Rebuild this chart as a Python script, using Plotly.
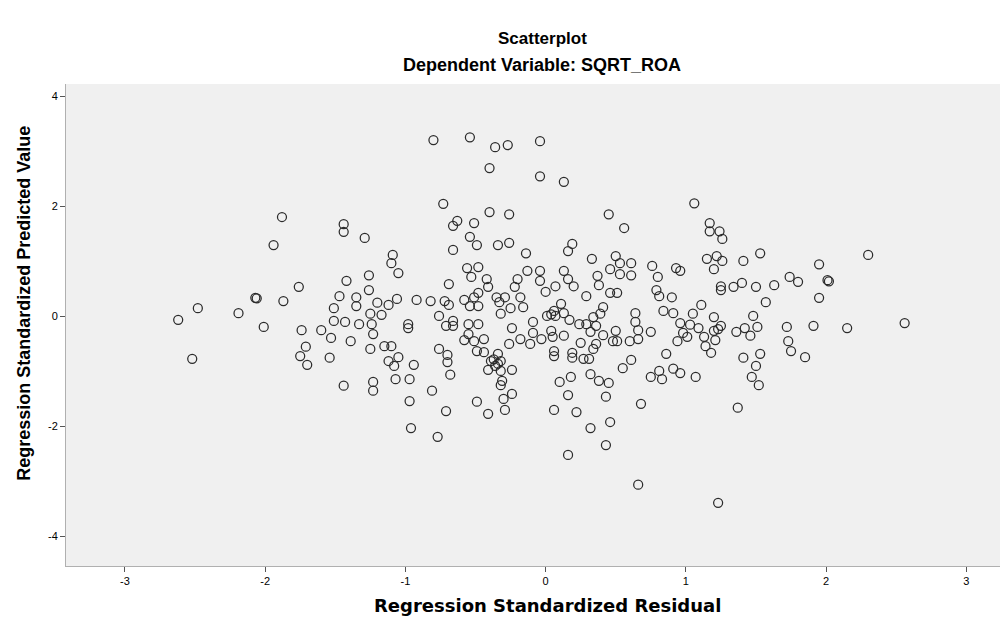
import plotly.graph_objects as go

# Regression standardized residual (x) and standardized predicted value (y)
residual = [
    -0.80, -0.54, -0.36, -0.27, -0.04, -0.40, -0.04, 0.13, -0.73, -0.40,
    -0.26, -0.63, -0.66, -0.51, -1.29, -0.54, -0.49, -0.34, -0.26, -1.09,
    -1.10, -0.66, -0.14, 0.45, 0.56, 1.06, 1.17, 1.17, 1.24, 1.26,
    0.19, 0.16, 0.50, 1.22, -1.88, -1.94, -1.44, -1.44, 1.53, 2.30,
    -2.62, -2.48, -2.52, -2.19, -2.07, -2.06, -2.01, -1.87, -1.76, -1.74,
    -1.71, -1.75, -1.70, -1.60, -1.53, -1.54, -1.51, -1.51, -1.47, -1.42,
    -1.43, -1.39, -1.44,
    -1.05, -1.26, -1.26, -1.35, -1.35, -1.20, -1.12, -1.06, -0.92, -0.82,
    -0.72, -0.69, -0.69, -0.56, -0.48, -0.53, -0.42, -0.41, -0.48, -0.51,
    -0.58, -0.54, -0.48, -0.35, -0.29, -0.33, -0.25, -0.32, -0.13, -0.20,
    -0.22, -0.18, -0.16, -1.25, -1.17, -1.33, -1.24, -1.23, -0.98, -0.98,
    -0.76, -0.71, -0.66, -0.66, -0.55, -0.48, -0.55, -0.58, -0.51, -0.44,
    -0.49, -0.44, -0.24, -0.09, -0.09, -0.18, -0.26, -0.11, -1.25, -1.15,
    -1.10, -1.12, -1.05, -1.08, -0.94, -0.76, -0.70, -0.70, -0.68, -0.39,
    -0.34, -0.32, -0.36, -0.41, -0.32, -0.24, -0.31, -1.23, -1.23, -1.07,
    -0.97, -0.37, -0.34,
    0.33, 0.53, 0.61, 0.46, 0.53, 0.61, 0.76, 0.80, 0.93, 0.96,
    1.15, 1.26, 1.20, -0.04, -0.04, 0.13, 0.16, 0.07, 0.00, 0.20,
    0.29, 0.37, 0.38, 0.46, 0.51, 0.79, 0.81, 0.90, 1.25, 1.25,
    0.11, 0.06, 0.01, 0.07, 0.13, 0.17, 0.24, 0.29, 0.41, 0.39,
    0.34, 0.36, 0.32, 0.64, 0.64, 0.66, 0.75, 0.50, 0.41, 0.66,
    0.60, 0.48, 0.51, 0.04, 0.05, 0.13, -0.03, 0.25, 0.36, 0.34,
    0.06, 0.06, 0.19, 0.19, 0.27, 0.31, 0.84, 0.91, 1.11, 1.05,
    1.20, 0.96, 1.03, 1.09, 0.98, 0.94, 1.01, 1.13, 1.20, 1.25,
    1.21, 1.14, 1.18, 0.86, 0.61, 0.55, 0.75, 0.81, 0.91, 0.96,
    1.07, 0.83, 0.32, 0.18, 0.10, 0.38, 0.45, 1.23, 0.04,
    1.41, 1.95, 1.74, 1.80, 2.01, 2.02, 1.34, 1.40, 1.50, 1.63,
    1.95, 1.57, 1.48, 1.36, 1.42, 1.51, 1.46, 1.72, 1.91, 2.15,
    2.56, 1.73, 1.75, 1.85, 1.41, 1.53, 1.50, 1.47, 1.52,
    -0.97, -0.81, -0.71, -0.96, -0.77, -0.49, -0.41, -0.32, -0.30, -0.24,
    -0.29, 0.16, 0.43, 0.06, 0.22, 0.32, 0.46, 0.68, 0.43, 0.16,
    0.66, 1.23, 1.37,
]
predicted = [
    3.21, 3.26, 3.08, 3.12, 3.19, 2.70, 2.55, 2.45, 2.05, 1.90,
    1.86, 1.74, 1.65, 1.70, 1.43, 1.45, 1.30, 1.30, 1.34, 1.12,
    0.97, 1.21, 1.15, 1.86, 1.61, 2.06, 1.70, 1.55, 1.55, 1.41,
    1.32, 1.19, 1.10, 1.10, 1.81, 1.30, 1.68, 1.54, 1.15, 1.12,
    -0.06, 0.15, -0.77, 0.06, 0.34, 0.33, -0.19, 0.28, 0.54, -0.25,
    -0.55, -0.72, -0.88, -0.25, -0.39, -0.75, -0.08, 0.15, 0.37, 0.65,
    -0.10, -0.45, -1.26,
    0.79, 0.75, 0.48, 0.35, 0.19, 0.25, 0.21, 0.32, 0.30, 0.28,
    0.28, 0.21, 0.59, 0.88, 0.90, 0.72, 0.68, 0.54, 0.43, 0.35,
    0.30, 0.19, 0.19, 0.35, 0.35, 0.26, 0.15, 0.05, 0.83, 0.68,
    0.54, 0.35, 0.17, 0.05, 0.03, -0.14, -0.14, -0.32, -0.14, -0.21,
    0.01, -0.17, -0.08, -0.17, -0.14, -0.14, -0.32, -0.43, -0.45, -0.41,
    -0.63, -0.65, -0.21, -0.10, -0.30, -0.41, -0.50, -0.50, -0.59, -0.54,
    -0.54, -0.81, -0.74, -0.90, -0.88, -0.59, -0.70, -0.83, -1.06, -0.81,
    -0.68, -0.81, -0.90, -0.97, -0.99, -0.97, -1.17, -1.19, -1.35, -1.14,
    -1.14, -0.78, -0.86,
    1.05, 0.97, 0.97, 0.86, 0.77, 0.75, 0.92, 0.72, 0.88, 0.83,
    1.05, 1.01, 0.86, 0.83, 0.65, 0.83, 0.68, 0.55, 0.45, 0.55,
    0.37, 0.74, 0.57, 0.43, 0.43, 0.48, 0.37, 0.35, 0.55, 0.48,
    0.23, 0.10, 0.01, 0.01, 0.06, -0.06, -0.14, -0.14, 0.17, 0.05,
    -0.01, -0.17, -0.28, 0.06, -0.10, -0.25, -0.28, -0.26, -0.34, -0.41,
    -0.45, -0.45, -0.45, -0.26, -0.37, -0.35, -0.41, -0.48, -0.50, -0.59,
    -0.63, -0.72, -0.66, -0.75, -0.77, -0.77, 0.10, 0.06, 0.21, 0.05,
    -0.01, -0.12, -0.15, -0.21, -0.30, -0.45, -0.37, -0.37, -0.26, -0.17,
    -0.43, -0.54, -0.66, -0.68, -0.79, -0.94, -1.10, -0.99, -0.95, -1.03,
    -1.10, -1.14, -1.05, -1.10, -1.19, -1.17, -1.21, -0.23, 0.04,
    1.01, 0.95, 0.72, 0.63, 0.66, 0.64, 0.54, 0.61, 0.54, 0.57,
    0.34, 0.26, 0.01, -0.28, -0.21, -0.19, -0.35, -0.19, -0.17, -0.21,
    -0.12, -0.45, -0.63, -0.74, -0.75, -0.68, -0.90, -1.10, -1.25,
    -1.54, -1.35, -1.72, -2.03, -2.19, -1.55, -1.77, -1.25, -1.50, -1.41,
    -1.70, -1.43, -1.46, -1.70, -1.74, -2.03, -1.92, -1.59, -2.34, -2.52,
    -3.06, -3.39, -1.66,
]

x_ticks = [-3, -2, -1, 0, 1, 2, 3]
y_ticks = [-4, -2, 0, 2, 4]

title_main = "Scatterplot"
title_sub = "Dependent Variable: SQRT_ROA"
x_title = "Regression Standardized Residual"
y_title = "Regression Standardized Predicted Value"

FONT = "Liberation Sans, Arial, sans-serif"
WIDE = "DejaVu Sans, Verdana, sans-serif"

fig = go.Figure(
    go.Scatter(
        x=residual,
        y=predicted,
        mode="markers",
        marker=dict(
            symbol="circle-open",
            size=9,
            color="#2b2b2b",
            line=dict(width=1.25, color="#2b2b2b"),
        ),
        hoverinfo="x+y",
    )
)

fig.update_layout(
    width=1003,
    height=623,
    margin=dict(l=66, r=3, t=84, b=57),
    paper_bgcolor="white",
    plot_bgcolor="#F0F0F0",
    showlegend=False,
    font=dict(family=FONT, color="#000000", size=11),
    annotations=[
        dict(text="<b>" + title_main + "</b>", xref="paper", yref="paper",
             x=0.51, y=1.0, yshift=46, yanchor="middle", xanchor="center",
             showarrow=False, font=dict(family=FONT, size=17, color="#000")),
        dict(text="<b>" + title_sub + "</b>", xref="paper", yref="paper",
             x=0.51, y=1.0, yshift=19, yanchor="middle", xanchor="center",
             showarrow=False, font=dict(family=FONT, size=18, color="#000")),
        dict(text="<b>" + x_title + "</b>", xref="paper", yref="paper",
             x=0.516, y=0.0, yshift=-39, yanchor="middle", xanchor="center",
             showarrow=False, font=dict(family=WIDE, size=18, color="#000")),
        dict(text="<b>" + y_title + "</b>", xref="paper", yref="paper",
             x=0.0, xshift=-42, y=0.544, textangle=-90,
             yanchor="middle", xanchor="center",
             showarrow=False, font=dict(family=FONT, size=18, color="#000")),
    ],
)

fig.update_xaxes(
    range=[-3.42, 3.24],
    tickvals=x_ticks,
    ticktext=[str(v) for v in x_ticks],
    ticks="outside",
    ticklen=5,
    tickcolor="#555",
    tickfont=dict(family=FONT, size=11, color="#000"),
    showgrid=False,
    zeroline=False,
    showline=True,
    linecolor="#b0b0b0",
    linewidth=1,
)
fig.update_yaxes(
    range=[-4.54, 4.23],
    tickvals=y_ticks,
    ticktext=[str(v) for v in y_ticks],
    ticks="outside",
    ticklen=5,
    tickcolor="#555",
    tickfont=dict(family=FONT, size=11, color="#000"),
    showgrid=False,
    zeroline=False,
    showline=True,
    linecolor="#b0b0b0",
    linewidth=1,
)

fig.write_html("out.html", config={"displayModeBar": False},
               post_script="document.body.style.margin='0';")
